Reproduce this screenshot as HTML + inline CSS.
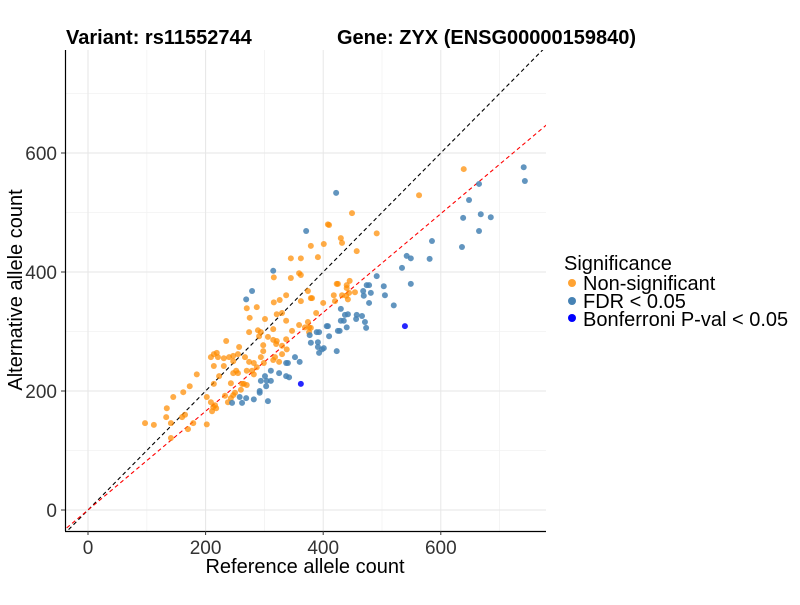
<!DOCTYPE html>
<html><head><meta charset="utf-8"><style>
body{margin:0;background:#fff;font-family:"Liberation Sans",sans-serif}
svg text{font-family:"Liberation Sans",sans-serif}
</style></head><body>
<svg id="chart" width="800" height="600" xmlns="http://www.w3.org/2000/svg">
<rect width="800" height="600" fill="#fff"/>
<defs><clipPath id="pc"><rect x="65" y="50" width="481" height="481"/></clipPath></defs>
<g id="grid"></g>
<g id="lines" clip-path="url(#pc)"></g>
<g id="pts" clip-path="url(#pc)"></g>
<line x1="65.5" y1="50" x2="65.5" y2="531" stroke="#000" stroke-width="1.2"/>
<line x1="65" y1="531.5" x2="546" y2="531.5" stroke="#000" stroke-width="1.2"/>
<g id="ticks"></g>
<text x="66" y="44" font-size="20" font-weight="bold">Variant: rs11552744</text>
<text x="337" y="44" font-size="20" font-weight="bold">Gene: ZYX (ENSG00000159840)</text>
<text x="305" y="573" font-size="20" text-anchor="middle">Reference allele count</text>
<text transform="translate(22,290) rotate(-90)" font-size="20" text-anchor="middle">Alternative allele count</text>
<g>
<text x="564" y="270" font-size="20">Significance</text>
<circle cx="572" cy="283" r="4" fill="#FF8C00" fill-opacity="0.8"/>
<text x="583" y="290" font-size="20">Non-significant</text>
<circle cx="572" cy="301" r="4" fill="#4682B4"/>
<text x="583" y="308" font-size="20">FDR &lt; 0.05</text>
<circle cx="572" cy="318" r="4" fill="#0000FF"/>
<text x="583" y="326" font-size="20">Bonferroni P-val &lt; 0.05</text>
</g>
</svg>
<script>
const xTicks=[0,200,400,600];
const yTicks=[0,200,400,600];
const minorTicks=[100,300,500,700];
const redSlope=0.83;
const orangeX=[97,112,134,133,141,145,162,173,185,160,165,170,179,141,202,202,209,213,211,218,216,214,223,209,214,219,221,214,231,231,235,240,247,247,257,255,267,274,282,247,252,255,243,262,265,270,270,279,282,287,260,250,247,243,238,233,274,275,270,287,289,291,294,298,298,294,299,301,306,315,315,315,320,321,318,321,316,326,330,330,325,330,337,337,337,338,316,345,359,362,362,347,359,345,362,379,391,401,408,374,379,400,418,423,374,369,376,379,388,376,639,563,449,410,491,430,432,457,445,425,440,440,444,454,432,439,442,381,420];
const orangeY=[146,143,171,156,146,190,198,208,228,156,160,136,146,121,144,190,181,173,166,171,176,212,225,257,262,264,257,242,255,242,284,257,259,250,274,262,257,249,247,230,234,230,213,212,212,210,234,234,228,240,202,197,193,188,181,192,299,323,339,341,302,292,299,277,267,257,247,321,291,286,304,252,279,284,257,329,349,353,331,262,249,276,287,318,361,270,391,390,398,395,351,301,311,423,423,444,425,447,480,368,356,348,361,380,316,307,307,306,331,299,573,529,499,479,465,457,449,435,385,380,378,373,365,366,361,360,354,356,351];
const fdrX=[422,371,315,279,269,352,360,337,340,311,325,337,342,301,294,304,311,303,292,292,258,269,282,306,245,262,408,410,389,393,377,379,391,391,398,401,393,423,425,741,743,665,648,668,685,638,665,585,636,542,549,581,534,549,491,503,505,520,474,478,481,468,469,478,430,437,442,457,466,456,471,473,430,435,428,440,406];
const fdrY=[533,469,402,368,354,257,249,247,247,234,230,225,223,225,217,217,217,208,200,197,190,188,186,183,180,180,309,292,299,299,294,281,282,274,270,272,264,267,301,576,553,548,521,497,492,491,469,452,442,427,423,422,407,380,393,376,361,344,378,378,365,368,360,348,338,328,329,328,326,321,316,306,318,318,301,307,309];
const bonfX=[539,362];
const bonfY=[309,212];
const NS='http://www.w3.org/2000/svg';
const sx=v=>88+v*0.588, sy=v=>510-v*0.595;
function mk(t,p,a){const e=document.createElementNS(NS,t);for(const k in a)e.setAttribute(k,a[k]);p.appendChild(e);return e;}
const grid=document.getElementById('grid');
minorTicks.forEach(v=>{
 let l=mk('line',grid,{x1:sx(v),x2:sx(v),y1:50,y2:531,stroke:'#f2f2f2','stroke-width':0.8});
 
 
 let m=mk('line',grid,{x1:65,x2:546,y1:sy(v),y2:sy(v),stroke:'#f2f2f2','stroke-width':0.8});
 
 
});
xTicks.forEach(v=>{
 let l=mk('line',grid,{x1:sx(v),x2:sx(v),y1:50,y2:531,stroke:'#e6e6e6','stroke-width':1});
 
 
});
yTicks.forEach(v=>{
 let l=mk('line',grid,{x1:65,x2:546,y1:sy(v),y2:sy(v),stroke:'#e6e6e6','stroke-width':1});
 
 
});
const ticks=document.getElementById('ticks');
xTicks.forEach(v=>{
 let t=mk('line',ticks,{x1:sx(v),x2:sx(v),y1:531,y2:535,stroke:'#333'});
 
 
 let s=mk('text',ticks,{x:sx(v),y:554,'font-size':19,'text-anchor':'middle',fill:'#333'});
 s.textContent=v;
 
 
});
yTicks.forEach(v=>{
 let t=mk('line',ticks,{x1:61,x2:65,y1:sy(v),y2:sy(v),stroke:'#333'});
 
 
 let s=mk('text',ticks,{x:57,y:sy(v)+7,'font-size':19,'text-anchor':'end',fill:'#333'});
 s.textContent=v;
 
 
});
const lines=document.getElementById('lines');
let bl=mk('line',lines,{x1:sx(-100),y1:sy(-100),x2:sx(900),y2:sy(900),stroke:'#000','stroke-width':1.1,'stroke-dasharray':'4,3'});


let rl=mk('line',lines,{x1:sx(-100),y1:sy(-100*redSlope),x2:sx(900),y2:sy(900*redSlope),stroke:'#ff0000','stroke-width':1.1,'stroke-dasharray':'4,3'});


const pts=document.getElementById('pts');
orangeX.forEach((x,i)=>{
 let c=mk('circle',pts,{cx:sx(x),cy:sy(orangeY[i]),r:3,fill:'#FF8C00','fill-opacity':0.72});
 
 
});
fdrX.forEach((x,i)=>{
 let c=mk('circle',pts,{cx:sx(x),cy:sy(fdrY[i]),r:3,fill:'#4682B4','fill-opacity':0.85});
 
 
});
bonfX.forEach((x,i)=>{
 let c=mk('circle',pts,{cx:sx(x),cy:sy(bonfY[i]),r:3,fill:'#0000FF','fill-opacity':0.85});
 
 
});
</script>
</body></html>
